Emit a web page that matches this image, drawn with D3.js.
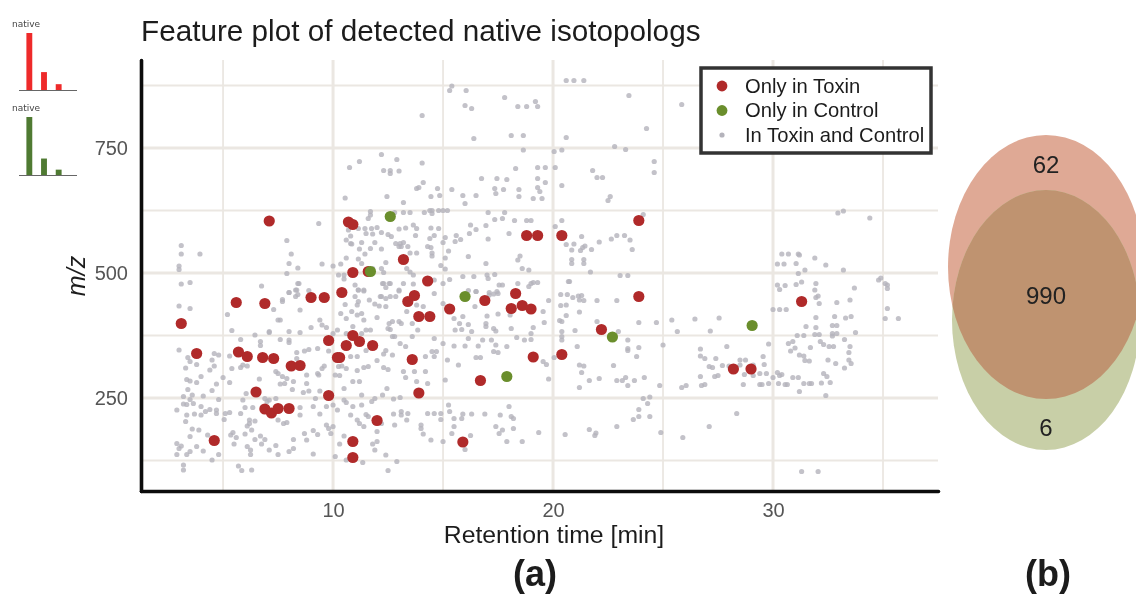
<!DOCTYPE html>
<html>
<head>
<meta charset="utf-8">
<script src="https://cdn.jsdelivr.net/npm/d3@7"></script>
<style>
  html, body { margin: 0; padding: 0; background: #fff; }
  svg { display: block; filter: blur(0.4px); }
  text { font-family: "Liberation Sans", Arial, sans-serif; }
</style>
</head>
<body>
<script>
// [retention time, m/z]
const onlyToxin = [[3.1,399],[3.8,339],[5.6,441],[6.9,439],[5.7,342],[6.1,333],[6.8,331],[7.3,329],[9,451],[9.6,451],
[10.4,461],[8.1,314],[8.5,315],[9.8,365],[10.9,375],[11.2,363],[10.6,355],[11.8,355],[10.2,331],[10.3,331],
[6.5,262],[9.8,255],[6.9,228],[7.2,220],[7.5,229],[8,229],[4.6,165],[10.9,163],[10.9,131],[12,205],
[13.6,327],[13.9,260],[13.4,443],[13.7,455],[13.9,413],[14.4,413],[15.3,428],[14.3,484],[16.9,445],[18.3,459],
[18.1,429],[18.6,435],[19,428],[16.7,285],[15.9,162],[19.1,332],[20.4,337],[22.2,387],[23.9,453],[28.2,308],
[29,308],[31.3,443],[23.9,605],[18.8,575],[19.3,575],[20.4,575],[13.2,527],[7.1,604],[10.7,602],[10.9,597],
[10.9,501],[11.6,503]];
const onlyControl = [[12.6,613],[11.7,503],[16,453],[17.9,293],[22.7,372],[29.05,395]];
const shared = [[3.1,478],[3.5,481],[3,434],[3.5,429],[3,346],[3.4,331],[3.5,323],[3.8,317],[3.3,310],[3.35,287],
[3.5,284],[3.8,281],[3.4,267],[3.6,256],[3.2,253],[3.5,247],[3.65,239],[3.35,237],[2.9,226],[3.2,238],
[4,233],[4.4,227],[4.2,223],[4,216],[3.7,218],[3.35,216],[3.3,203],[3.6,188],[3.9,186],[3.5,173],
[4.3,176],[2.9,159],[3.1,154],[3,149],[3.8,153],[4.1,144],[3.5,143],[3.35,137],[2.9,137],[4.8,137],
[4.5,126],[3.2,116],[3.2,106],[4.5,326],[4.6,339],[4.8,336],[4.6,314],[4.4,306],[4,293],[5,291],
[4.7,278],[5.3,281],[4.5,265],[4.1,254],[4.8,247],[4.7,226],[5.1,219],[5.3,221],[4.7,219],[5.05,207],
[5.8,219],[6,231],[6.35,231],[5.9,246],[6.05,259],[5.4,309],[5.3,334],[5.8,367],[5.4,385],[5.2,417],
[6.45,376],[6.7,363],[6.7,355],[7.1,383],[7.1,381],[7.6,367],[8,366],[8,361],[8,383],[8.5,381],
[9,391],[9.4,406],[9.5,396],[9.7,391],[10.2,386],[10,379],[7.5,406],[7.6,406],[7.3,427],[7.7,443],
[8.5,426],[8,461],[8.35,466],[8.4,479],[6.75,474],[5.8,311],[6.1,314],[5.9,316],[6.65,288],[7.4,303],
[7.5,299],[7.7,293],[7.9,289],[7.8,279],[7.6,278],[8.2,283],[8.8,296],[9.3,299],[9.5,309],[9.6,314],
[9.35,296],[8.8,279],[8.15,267],[8.65,261],[8.9,264],[9.4,264],[9.2,249],[8.35,341],[8.7,344],[8.9,347],
[9.3,349],[9.8,344],[8.35,329],[6.9,249],[7.1,246],[7.4,249],[7,243],[8.5,231],[8.5,216],[9.1,233],
[9.4,218],[9.7,233],[10.2,226],[10,236],[10.5,246],[10.6,241],[10.9,233],[10.8,216],[11.3,236],[11.76,243],
[11.5,217],[11.6,213],[6.2,206],[6.2,199],[6.45,204],[6.1,194],[6.3,186],[6,178],[5.45,181],[5.35,176],
[5.6,171],[5.5,158],[6.1,153],[6.25,146],[6.25,137],[6.75,158],[6.45,167],[6.7,174],[6.9,167],[7.4,155],
[7.1,146],[7.5,137],[8,143],[8.2,149],[8.2,167],[8.7,179],[8.8,166],[9.1,138],[9.1,185],[9.3,177],
[7.5,206],[7.75,199],[7.9,201],[5.7,114],[5.85,105],[6.3,106],[9.7,196],[10,193],[9.9,179],[9.8,189],
[10.3,158],[10.5,174],[10.6,126],[10.1,133],[11.1,206],[11.2,199],[11.4,193],[12,183],[11.8,158],[12,163],
[11.9,146],[12.4,136],[11.35,121],[12.9,123],[12.5,105],[12.2,199],[12.8,196],[12.75,218],[13.1,223],[13.1,216],
[13.4,219],[13.35,206],[14,196],[14,189],[14.1,178],[14.45,166],[15,163],[15.4,179],[15.5,193],[15.5,209],
[15.85,209],[15.3,223],[15.25,236],[14.3,219],[14.6,219],[14.9,219],[14.9,207],[16,147],[16.25,175],[15.9,218],
[16.3,218],[16.9,218],[17.6,216],[18,233],[18.1,213],[18.2,209],[17.4,193],[17.7,186],[17.55,179],[17.9,163],
[18.6,163],[18.2,189],[10.35,419],[10.6,409],[10.85,423],[11.1,416],[11.3,419],[11.4,406],[11.15,443],[11.1,436],
[10.55,437],[11,453],[11.4,466],[11,476],[11.15,466],[11.65,446],[11.9,438],[12.2,453],[12.4,449],[12,411],
[12.4,433],[12.1,434],[12.3,479],[12.6,479],[13.2,479],[13.65,478],[13,466],[14.6,459],[11.7,386],[11.5,386],
[10.9,393],[10.6,379],[11.3,379],[12.55,399],[12.7,403],[12.5,389],[13,403],[13.1,399],[13.6,399],[13.35,423],
[13.8,436],[14.1,433],[13.85,386],[13.6,373],[12.7,373],[12.8,373],[12.6,387],[13.05,359],[13.3,353],[12.4,345],
[12.7,336],[12.3,338],[12,325],[11.5,345],[11.1,333],[10.8,333],[10.6,309],[10.4,314],[10.25,313],[11.1,305],
[11.4,311],[11.6,313],[12.3,311],[12.5,307],[13.2,303],[13.3,291],[13.7,303],[14.2,303],[13.8,283],[14.3,279],
[12.45,269],[12.25,256],[12.75,248],[13.05,251],[11.9,249],[10.9,283],[11.2,283],[10.1,296],[10.3,295],[10.5,269],
[11.3,256],[14.2,333],[14.5,343],[14.7,343],[14.6,333],[14.6,369],[15,359],[15.5,354],[16,354],[16.6,354],
[15.2,326],[15.7,316],[15.1,286],[16.5,331],[16.7,331],[16.15,369],[16.8,366],[17.2,366],[17.4,356],[17.3,343],
[17.5,341],[17.9,353],[18.35,371],[18.7,366],[19,379],[15.55,386],[15.85,387],[15.75,399],[16.15,397],[16.3,383],
[16.95,399],[16.95,393],[17.3,389],[17.4,384],[18.1,389],[17.5,418],[18.05,416],[17,414],[16.45,433],[15.9,413],
[15.5,409],[15,439],[16.5,463],[17.45,463],[17.1,461],[17.7,476],[18.9,473],[19,479],[18.4,479],[19.1,481],
[19.3,481],[20.7,483],[20.35,457],[20.65,457],[20.9,451],[21.15,454],[21.3,455],[21.2,446],[21.4,445],[19.8,445],
[20.35,435],[20.6,436],[19.55,423],[21.2,422],[20.6,415],[19.6,401],[20.3,405],[20.4,403],[19.1,391],[21,385],
[20.4,383],[20.4,373],[20.4,366],[19,367],[21.1,353],[20.05,331],[19.55,323],[19.7,317],[19.8,288],[21.2,316],
[21.4,314],[21.3,301],[21.65,285],[22.1,289],[21.2,271],[22,403],[22.97,383],[23.4,366],[23.4,349],[23.4,345],
[23.9,351],[23.8,333],[22.75,315],[22.9,285],[23.15,285],[23.3,291],[23.7,285],[24.15,291],[23.4,275],[24.85,275],
[25,356],[22,445],[22.9,445],[23.9,401],[24.7,401],[25.4,406],[25.65,383],[26.45,408],[27.55,410],[27.15,384],
[27.9,353],[26.7,348],[26.7,334],[26.9,329],[27.4,329],[27.1,313],[27.25,311],[27.7,315],[28,314],[28.5,326],
[28.75,326],[28.5,316],[29.1,316],[29.55,333],[29.6,317],[29.8,358],[28.7,297],[29.1,295],[29.4,299],[29.7,299],
[26.7,293],[27.35,293],[27.5,295],[25.85,271],[26.05,275],[26.75,275],[26.9,277],[28.65,277],[29.4,277],[29.5,277],
[29.8,279],[30.25,279],[30.55,277],[30.65,277],[30,291],[30.2,301],[30.3,295],[30.4,297],[30.9,291],[31.15,291],
[31.2,263],[31.4,279],[31.65,279],[31.75,279],[32.2,280],[32.6,281],[32.4,255],[32.3,299],[32.45,293],[33.25,310],
[32.85,319],[32.5,326],[33.45,326],[33.55,319],[33.45,341],[33.5,353],[33.25,367],[32.75,353],[32.55,353],[32.3,357],
[32.15,363],[31.7,351],[31.2,336],[31.4,334],[31.45,325],[31.65,324],[31,350],[30.8,344],[30.7,359],[30.9,363],
[31.1,375],[31.4,375],[31.9,377],[32.1,377],[32.7,374],[32.7,379],[32.9,379],[33.75,381],[31.95,391],[31.5,393],
[32.7,395],[32.9,395],[31.95,411],[32.8,413],[33.55,413],[32.1,439],[32.9,441],[31.95,451],[32.05,454],[30,427],
[30.3,427],[30.6,427],[30.2,476],[30.3,467],[30.55,475],[31.05,477],[31.3,482],[31.95,479],[34.8,486],[35.1,479],
[35.2,469],[35.2,429],[35.1,409],[35.7,409],[24.1,249],[24.4,252],[24.3,239],[23.9,227],[23.9,213],[24.4,213],
[23.65,207],[22.9,193],[21.65,187],[21.95,180],[21.9,175],[20.55,177],[19.35,181],[24.9,181],[25.9,171],[27.1,193],
[28.35,219],[31.3,103],[32.05,103],[20.6,885],[20.95,885],[21.4,885],[15.4,874],[15.3,865],[16.05,865],[17.8,851],
[16,835],[16.3,829],[18.4,833],[18.8,833],[19.2,843],[19.3,833],[23.45,855],[25.85,837],[14.05,815],[24.25,789],
[16.4,769],[18.1,775],[18.65,775],[20.6,771],[22.8,753],[23.3,747],[18.65,746],[20.05,743],[20.4,746],[14.05,720],
[24.6,723],[24.6,701],[18.3,709],[19.3,711],[19.65,711],[20.1,711],[21.8,705],[22,691],[22.25,691],[16.75,689],
[17.45,689],[17.9,687],[19.3,689],[19.65,681],[14.1,681],[13.9,671],[13.8,669],[14.75,669],[15.4,667],[17.35,669],
[17.75,667],[18.45,667],[19.3,671],[19.4,663],[17.4,659],[20.4,675],[22.6,653],[22.5,645],[14.45,653],[14.85,655],
[15.9,655],[16.5,655],[18.45,653],[19.1,649],[19.5,649],[16,639],[13.2,641],[13.2,621],[13.5,621],[14.15,621],
[14.4,625],[14.5,625],[14.5,619],[14.8,625],[15,625],[15.2,625],[17.05,621],[17.8,621],[17.35,607],[17.7,609],
[18.25,605],[18.8,605],[19,605],[20.4,605],[24.1,617],[16.25,596],[16.95,595],[16.5,587],[16.2,579],[18,579],
[20.1,593],[13.65,596],[13.8,589],[14.45,590],[14.8,589],[13.3,590],[13.75,575],[14.6,575],[15.1,571],[15.6,575],
[15.8,567],[15.55,563],[14.4,569],[15,561],[17.05,568],[13.2,561],[13.4,553],[13.1,553],[14.3,553],[14.45,551],
[15.25,544],[14.5,540],[13.8,540],[13.5,540],[14.5,534],[16.15,533],[15.1,530],[21.3,573],[22.65,568],[22.9,575],
[23.25,575],[23.5,566],[22.1,562],[20.6,557],[20.95,558],[20.85,546],[21.45,554],[21.35,551],[21.25,545],[21.75,547],
[23.6,547],[18.5,534],[18.4,526],[20.85,527],[21.4,527],[20.85,519],[21.4,519],[16.95,519],[14.9,515],[15.1,508],
[18.6,509],[18.9,506],[21.7,502],[13.5,502],[13.35,509],[13.65,496],[17,496],[17.35,497],[15.9,493],[16.4,493],
[23.05,495],[23.4,495],[15.3,487],[17.05,489],[20.75,483],[17.55,476],[15,479],[14.6,486],[16.5,463],[16.15,465],
[17.3,458],[17.5,459],[17.1,456],[30.4,538],[30.7,538],[31.15,538],[30.2,518],[30.5,518],[31.05,519],[31.15,499],
[32.95,620],[33.2,624],[34.4,610],[31.2,536],[31.9,530],[31.45,506],[32.4,516],[33.2,506],[31.9,466],[34.9,490],
[35.2,476],[33.7,470],[33.5,446],[33.3,410],[12.2,737],[12.9,727],[11.2,723],[10.75,711],[12.3,705],[12.6,705],
[12.6,699],[13,704],[10.55,650],[12.45,653],[11.7,623],[11.6,609],[11.7,616],[12.8,621],[11.15,589],[11.45,589],
[11.75,589],[12,591],[11.5,579],[11.8,578],[12.2,581],[12.5,577],[12.65,573],[13,588],[10.7,586],[10.8,574],
[10.6,566],[10.85,558],[11.3,561],[11.9,561],[11.2,548],[11.7,549],[12.2,548],[11.45,538],[12.85,559],[13.05,559],
[13,553],[10.6,530],[11.15,528],[11.3,519],[12.4,521],[10.35,518],[10,514],[9.5,518],[11.8,509],[12.2,509],
[12.3,501],[10.25,496],[10.5,496],[10.5,488],[11.15,466],[11.4,464],[12.25,479],[12.55,479],[12.4,471],[12.15,453],
[12.85,453],[13,464],[12.6,453],[3.1,555],[3.1,538],[3.95,538],[3,514],[3,507],[7.9,565],[8.1,538],[8,519],
[8.4,510],[7.9,499],[9.35,599],[8.45,479],[8.3,466],[8,461],[8.3,453],[8.4,457],[7.7,447],[8.9,465],[10.8,559]];

const xMajor = [10, 20, 30];
const xMinor = [5, 15, 25, 35];
const yMajor = [250, 500, 750];
const yMinor = [125, 375, 625, 875];

const legendLabels = ["Only in Toxin", "Only in Control", "In Toxin and Control"];
const isotopeBars = [1, 2, 3];
const toxinIsotopes = [100, 32, 11];
const controlIsotopes = [100, 29, 10];
const vennCounts = ["62", "990", "6"];

const RED = "#b02a2a", GREEN = "#6a8e2c", GREY = "#b4b3bb";

const svg = d3.select("body").append("svg").attr("width", 1136).attr("height", 595);

const x = d3.scaleLinear().domain([1.27, 37.5]).range([141, 938]);
const y = d3.scaleLinear().domain([64, 926]).range([491, 60]);

// grid
const grid = svg.append("g").attr("stroke", "#ebe7e2").attr("fill", "none");
grid.selectAll(".vminor").data(xMinor).enter().append("line")
  .attr("x1", d => x(d)).attr("x2", d => x(d)).attr("y1", 60).attr("y2", 491).attr("stroke-width", 1.8);
grid.selectAll(".vmajor").data(xMajor).enter().append("line")
  .attr("x1", d => x(d)).attr("x2", d => x(d)).attr("y1", 60).attr("y2", 491).attr("stroke-width", 3);
grid.selectAll(".hminor").data(yMinor).enter().append("line")
  .attr("x1", 141).attr("x2", 938).attr("y1", d => y(d)).attr("y2", d => y(d)).attr("stroke-width", 1.8);
grid.selectAll(".hmajor").data(yMajor).enter().append("line")
  .attr("x1", 141).attr("x2", 938).attr("y1", d => y(d)).attr("y2", d => y(d)).attr("stroke-width", 3);

// points
svg.append("g").selectAll("circle").data(shared).enter().append("circle")
  .attr("cx", d => x(d[0])).attr("cy", d => y(d[1])).attr("r", 2.6)
  .attr("fill", GREY).attr("fill-opacity", 0.8);
svg.append("g").selectAll("circle").data(onlyToxin).enter().append("circle")
  .attr("cx", d => x(d[0])).attr("cy", d => y(d[1])).attr("r", 5.6).attr("fill", RED);
svg.append("g").selectAll("circle").data(onlyControl).enter().append("circle")
  .attr("cx", d => x(d[0])).attr("cy", d => y(d[1])).attr("r", 5.6).attr("fill", GREEN);

// axes
const xAxis = svg.append("g").attr("transform", "translate(0,491)")
  .call(d3.axisBottom(x).tickValues(xMajor).tickSize(0).tickPadding(12).tickFormat(d3.format("d")));
const yAxis = svg.append("g").attr("transform", "translate(141,0)")
  .call(d3.axisLeft(y).tickValues(yMajor).tickSize(0).tickPadding(13).tickFormat(d3.format("d")));
[xAxis, yAxis].forEach(a => {
  a.select(".domain").attr("stroke", "#0c0c0c").attr("stroke-width", 3.6).attr("stroke-linecap", "round");
  a.selectAll("text").attr("fill", "#555").style("font-size", "20px")
    .style("font-family", '"Liberation Sans", Arial, sans-serif');
});

svg.append("text").attr("x", 141).attr("y", 41).attr("fill", "#1c1c1c")
  .style("font-size", "29.7px").text("Feature plot of detected native isotopologs");
svg.append("text").attr("x", 554).attr("y", 543).attr("text-anchor", "middle").attr("fill", "#1c1c1c")
  .style("font-size", "24.8px").text("Retention time [min]");
svg.append("text").attr("transform", "translate(85,276) rotate(-90)").attr("text-anchor", "middle")
  .attr("fill", "#1c1c1c").style("font-size", "25px").style("font-style", "italic").text("m/z");
svg.append("text").attr("x", 535).attr("y", 586).attr("text-anchor", "middle").attr("fill", "#1c1c1c")
  .style("font-size", "36px").style("font-weight", "bold").text("(a)");
svg.append("text").attr("x", 1048).attr("y", 586).attr("text-anchor", "middle").attr("fill", "#1c1c1c")
  .style("font-size", "36px").style("font-weight", "bold").text("(b)");

// legend
const legend = svg.append("g");
legend.append("rect").attr("x", 701).attr("y", 68).attr("width", 230).attr("height", 85)
  .attr("fill", "#fff").attr("stroke", "#333").attr("stroke-width", 3.5);
const legendRow = d3.scalePoint().domain(legendLabels).range([86, 135]);
legend.selectAll("circle").data(legendLabels).enter().append("circle")
  .attr("cx", 722).attr("cy", d => legendRow(d))
  .attr("r", (d, i) => i < 2 ? 5.4 : 2.6)
  .attr("fill", (d, i) => [RED, GREEN, GREY][i]);
legend.selectAll("text").data(legendLabels).enter().append("text")
  .attr("x", 745).attr("y", d => legendRow(d) + 6.5)
  .attr("fill", "#1c1c1c").style("font-size", "20.2px").text(d => d);

// isotope pattern insets
function inset(values, color, top, base) {
  const bx = d3.scaleBand().domain(isotopeBars).range([22, 66]).paddingInner(0.6).paddingOuter(0.3);
  const by = d3.scaleLinear().domain([0, 100]).range([base, top]);
  const g = svg.append("g");
  g.selectAll("rect").data(values).enter().append("rect")
    .attr("x", (d, i) => bx(isotopeBars[i])).attr("width", bx.bandwidth())
    .attr("y", d => by(d)).attr("height", d => base - by(d)).attr("fill", color);
  g.append("line").attr("x1", 19).attr("x2", 77).attr("y1", base).attr("y2", base)
    .attr("stroke", "#666").attr("stroke-width", 1);
  g.append("text").attr("x", 12).attr("y", top - 6).attr("fill", "#444")
    .style("font-family", '"DejaVu Sans", sans-serif').style("font-size", "9px").text("native");
}
inset(toxinIsotopes, "#ee2a2a", 33, 90.5);
inset(controlIsotopes, "#4f7a32", 117, 175.5);

// venn
const defs = svg.append("defs");
defs.append("clipPath").attr("id", "pinkClip").append("ellipse")
  .attr("cx", 1046).attr("cy", 267).attr("rx", 98).attr("ry", 132);
svg.append("ellipse").attr("cx", 1046).attr("cy", 267).attr("rx", 98).attr("ry", 132).attr("fill", "#dfa995");
svg.append("ellipse").attr("cx", 1046).attr("cy", 320).attr("rx", 94).attr("ry", 130).attr("fill", "#c8cfa7");
svg.append("ellipse").attr("cx", 1046).attr("cy", 320).attr("rx", 94).attr("ry", 130).attr("fill", "#bf9370")
  .attr("clip-path", "url(#pinkClip)");
const vennY = [173, 304, 436];
svg.append("g").selectAll("text").data(vennCounts).enter().append("text")
  .attr("x", 1046).attr("y", (d, i) => vennY[i]).attr("text-anchor", "middle")
  .attr("fill", "#222").style("font-size", "24px").text(d => d);
</script>
</body>
</html>
